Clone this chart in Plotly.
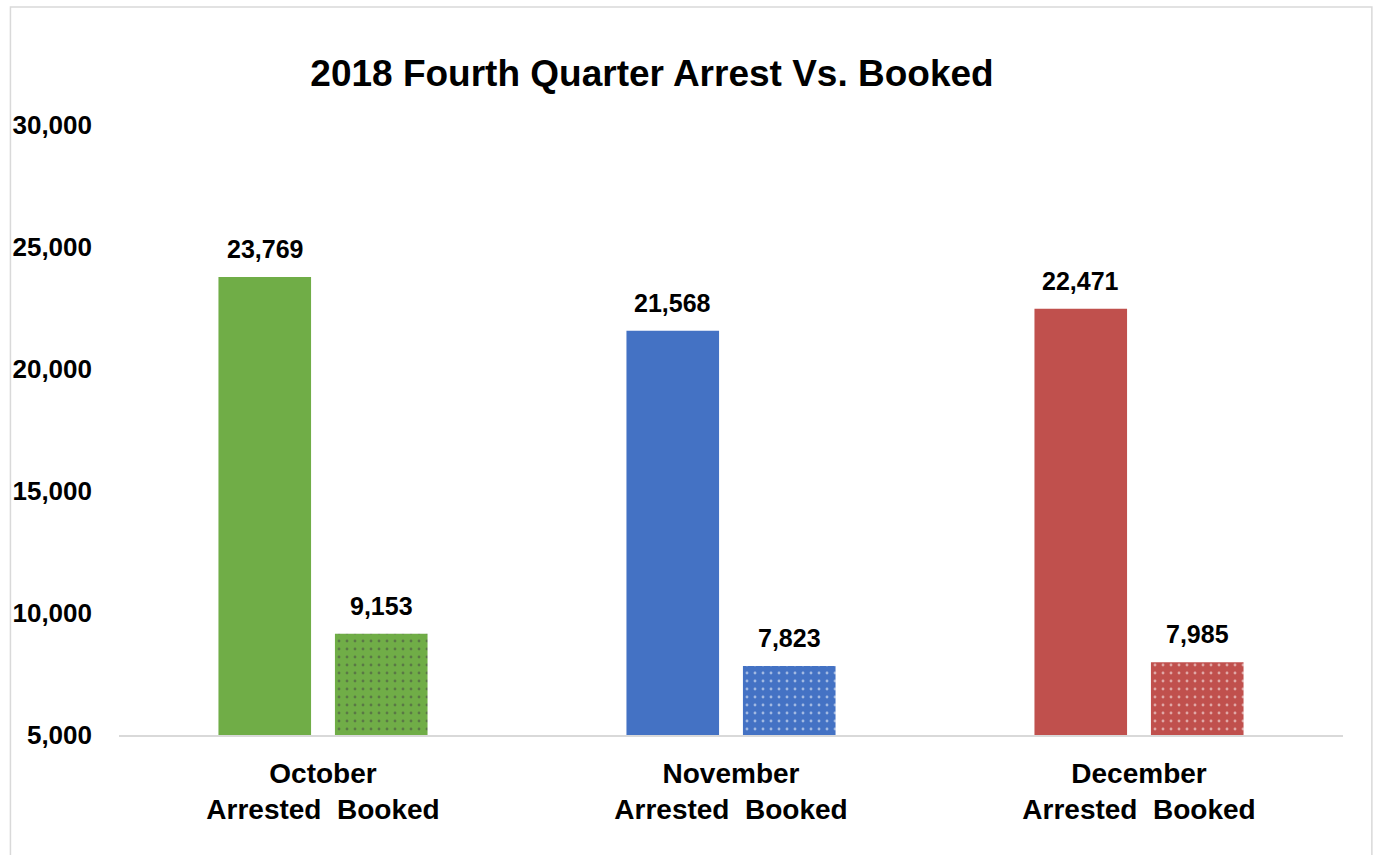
import plotly.graph_objects as go

months = ["October", "November", "December"]
arrested = [23769, 21568, 22471]
booked = [9153, 7823, 7985]
colors = ["#70AD47", "#4472C4", "#C0504D"]
tick_vals = [5000, 10000, 15000, 20000, 25000, 30000]
tick_text = ["5,000", "10,000", "15,000", "20,000", "25,000", "30,000"]
cat_labels = [m + "<br>Arrested\u00a0\u00a0Booked" for m in months]

W, H = 1377, 855
DX = -2
ML, MR, MT, MB = 116 + DX, 32 - DX, 125, 120
FONT = "Liberation Sans, Arial, sans-serif"

fig = go.Figure()
fig.add_trace(go.Bar(
    x=months, y=arrested, name="Arrested",
    marker=dict(color=colors, line=dict(width=0)),
))
fig.add_trace(go.Bar(
    x=months, y=booked, name="Booked",
    marker=dict(color=colors, line=dict(width=0),
                pattern=dict(shape=".", fgcolor="white", fillmode="overlay",
                             size=8, solidity=0.1)),
))

annotations = []
for i, m in enumerate(months):
    for val, shift in ((arrested[i], -58.5), (booked[i], 58.5)):
        annotations.append(dict(
            x=m, y=val, xref="x", yref="y", text=f"{val:,}", showarrow=False,
            xshift=shift, yshift=28, yanchor="middle",
            font=dict(family=FONT, size=25, color="black", weight="bold"),
        ))

pw = W - ML - MR
ph = H - MT - MB
shapes = [dict(
    type="rect", xref="paper", yref="paper",
    x0=(7 + DX - ML) / pw, x1=(1374 + DX - ML) / pw,
    y0=-(MB + 20) / ph, y1=(H - MB - 7) / ph,
    line=dict(color="#D9D9D9", width=1.5), fillcolor="rgba(0,0,0,0)", layer="below",
)]

fig.update_layout(
    width=W, height=H,
    margin=dict(l=ML, r=MR, t=MT, b=MB, pad=0),
    paper_bgcolor="white", plot_bgcolor="white",
    barmode="group", bargap=0.429, bargroupgap=0.205,
    showlegend=False,
    title=dict(text="<b>2018 Fourth Quarter Arrest Vs. Booked</b>",
               x=(654 + DX) / W, xref="container", xanchor="center",
               y=1 - 73 / H, yref="container", yanchor="middle",
               font=dict(family=FONT, size=37, color="black")),
    font=dict(family=FONT, color="black"),
    xaxis=dict(tickvals=months, ticktext=cat_labels, showline=True, linecolor="#D9D9D9",
               linewidth=2, ticks="", showgrid=False, ticklabelstandoff=12,
               tickfont=dict(family=FONT, size=28, color="black", weight="bold")),
    yaxis=dict(range=[5000, 30000], tickvals=tick_vals, ticktext=tick_text,
               showgrid=False, zeroline=False, showline=False, ticks="",
               ticklabelstandoff=26,
               tickfont=dict(family=FONT, size=26, color="black", weight="bold")),
    annotations=annotations,
    shapes=shapes,
)

fig.write_html("out.html", config={"displayModeBar": False},
               post_script="document.body.style.margin='0';document.body.style.overflow='hidden';")
